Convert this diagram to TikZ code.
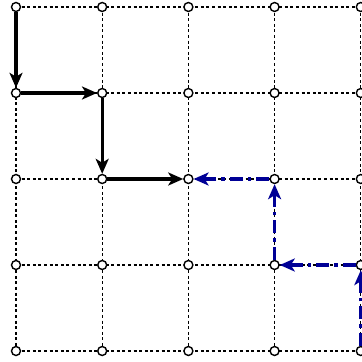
\documentclass[tikz,border=0pt]{standalone}
\usetikzlibrary{arrows.meta}
\definecolor{arrowblue}{RGB}{0,0,150}
\begin{document}
\begin{tikzpicture}[x=1pt,y=1pt,
 pt/.style={circle,draw,fill=white,inner sep=0pt,minimum size=9pt,line width=1.4pt},
 gridline/.style={line width=1.1pt,dash pattern=on 3pt off 2.6pt},
 blackarrow/.style={line width=3.2pt,-{Stealth[length=15pt,width=13pt,inset=4pt]}},
 bluearrow/.style={arrowblue,line width=3.2pt,dash pattern=on 13pt off 5pt on 3.5pt off 5pt,-{Stealth[length=15pt,width=13pt,inset=4pt]}}]
\useasboundingbox (0,0) rectangle (362,362);
\foreach \i in {0,...,4} {
  \foreach \j in {0,...,4} {
    \coordinate (c\i\j) at ({16+86.2*\i},{355-86*\j});
  }
}
\foreach \j in {0,...,4} {
  \draw[gridline] (c0\j) -- (c4\j);
  \draw[gridline] (c\j0) -- (c\j4);
}
\foreach \i in {0,...,4} {
  \foreach \j in {0,...,4} {
    \node[pt] (p\i\j) at (c\i\j) {};
  }
}
\draw[blackarrow] (p00) -- (p01);
\draw[blackarrow] (p01) -- (p11);
\draw[blackarrow] (p11) -- (p12);
\draw[blackarrow] (p12) -- (p22);
\draw[bluearrow] (p32) -- (p22);
\draw[bluearrow] (p33) -- (p32);
\draw[bluearrow] (p43) -- (p33);
\draw[bluearrow] (p44) -- (p43);
\end{tikzpicture}
\end{document}
